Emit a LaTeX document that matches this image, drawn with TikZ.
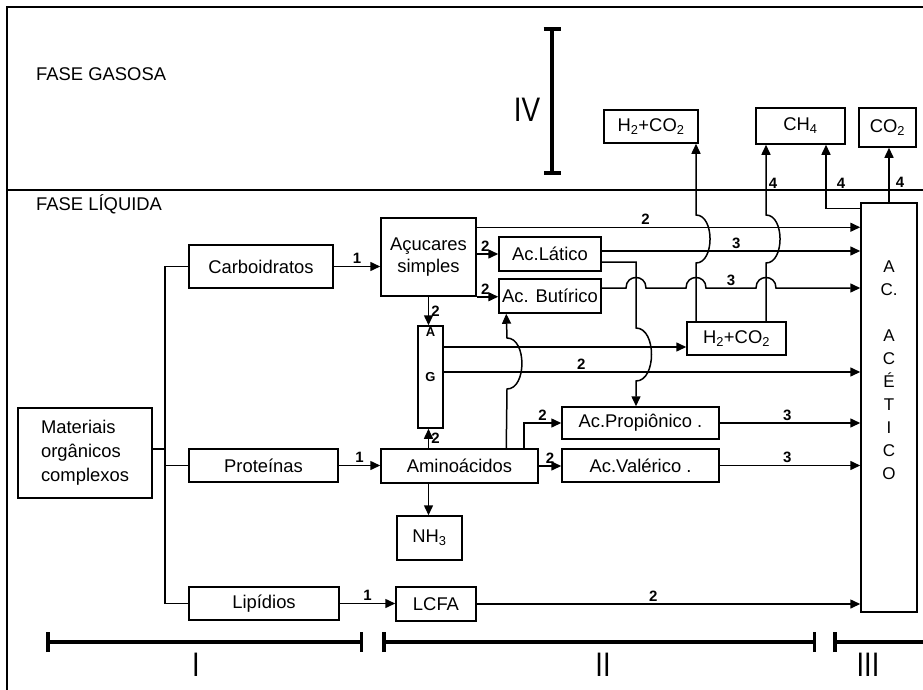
\documentclass[tikz,border=0pt]{standalone}
\usepackage{fontspec}
\setmainfont{Liberation Sans}
\usetikzlibrary{arrows.meta}
\tikzset{
  caixa/.style n args={2}{draw, line width=1.5pt, minimum width=#1, minimum height=#2, inner sep=1pt},
  seta/.style={line width=1.5pt, -{Triangle[length=10pt,width=9pt]}},
  linha/.style={line width=1.5pt},
  num/.style={font=\bfseries\fontsize{15}{17}\selectfont, inner sep=2pt},
  escala/.style={line width=3.5pt},
  fase/.style={font=\fontsize{34}{40}\selectfont},
}
\begin{document}
\begin{tikzpicture}[x=1pt,y=-1pt,font=\fontsize{18.4}{22}\selectfont]
  \useasboundingbox (0,0) rectangle (923,690);
  % moldura e fases
  \draw[linha] (7,700) -- (7,7) -- (935,7);
  \draw[linha] (7,190) -- (935,190);
  \node[anchor=base west, inner sep=0pt] (gasosa) at (36,81) {FASE GASOSA};
  \node[anchor=base west, inner sep=0pt] (liquida) at (36,210) {FASE LÍQUIDA};
  \node[fase] (iv) at (527,110) {\scalebox{0.82}[1]{IV}};
  \draw[escala, line width=4.5pt, {Bar[width=17pt]}-{Bar[width=17pt]}] (552,27) -- (552,175);

  % caixas
  \node[caixa={134pt}{90pt}, align=left, font=\fontsize{18.4}{24}\selectfont] (mat) at (85,453) {Materiais\\orgânicos\\complexos};
  \node[caixa={144pt}{43pt}] (carb) at (261,266.5) {Carboidratos};
  \node[caixa={149pt}{33pt}] (prot) at (263.5,465.5) {Proteínas};
  \node[caixa={150pt}{33pt}] (lip) at (264,603.5) {Lipídios};
  \node[caixa={95pt}{78pt}, align=center] (acu) at (428.5,257) {Açucares\\simples};
  \node[caixa={102pt}{34pt}] (lat) at (550,254) {Ac.Lático};
  \node[caixa={102pt}{34pt}] (but) at (550,296) {Ac. Butírico};
  \node[caixa={25pt}{102pt}, font=\bfseries\fontsize{13}{15}\selectfont,
        label={[anchor=north, inner sep=2pt, font=\bfseries\fontsize{13}{15}\selectfont]north:A}] (ag) at (430.5,377) {G};
  \node[caixa={157pt}{34pt}] (ami) at (459.5,466) {Aminoácidos};
  \node[caixa={65pt}{44pt}] (nh3) at (429.5,538) {NH\textsubscript{3}};
  \node[caixa={80pt}{34pt}] (lcfa) at (436,604) {LCFA};
  \node[caixa={157pt}{32pt}] (prop) at (640.5,423) {Ac.Propiônico .};
  \node[caixa={157pt}{33pt}] (val) at (640.5,465.5) {Ac.Valérico .};
  \node[caixa={99pt}{33pt}] (h2l) at (736.5,338.5) {H\textsubscript{2}+CO\textsubscript{2}};
  \node[caixa={94pt}{33pt}] (h2g) at (651,126.5) {H\textsubscript{2}+CO\textsubscript{2}};
  \node[caixa={89pt}{36pt}] (ch4) at (800.5,126) {CH\textsubscript{4}};
  \node[caixa={57pt}{39pt}] (co2) at (887.5,127.5) {CO\textsubscript{2}};
  \node[caixa={56pt}{409pt},
        label={[anchor=north, align=center, yshift=-55pt, font=\fontsize{17}{23}\selectfont]north:{A\\C.\\[23pt]A\\C\\É\\T\\I\\C\\O}}] (acet) at (889,407.5) {};

  % hidrolise
  \coordinate (tronco) at (165,0);
  \coordinate (m1) at ([yshift=4pt]mat.east);
  \draw[linha] (carb.west) -| (tronco |- lip.west) -- (lip.west);
  \draw[linha] (m1) -- (m1 -| tronco);
  \draw[linha] (prot.west) -- (prot.west -| tronco);
  \draw[seta] (carb.east) -- node[num,above]{1} (carb.east -| acu.west);
  \draw[seta] (prot.east) -- node[num,above]{1} (prot.east -| ami.west);
  \draw[seta] (lip.east) -- node[num,above]{1} (lip.east -| lcfa.west);

  % acidogenese
  \coordinate (a1) at ([yshift=-10pt]acu.north east);
  \draw[seta] (a1) -- node[num,above,pos=0.44]{2} (a1 -| acet.west);
  \draw[seta] (lat.west -| acu.east) -- node[num,above,pos=0.4]{2} (lat.west);
  \draw[seta] (acu.south east) -- node[num,above,pos=0.4]{2} (acu.south east -| but.west);
  \draw[seta] (acu.south) -- node[num,right]{2} (acu.south |- ag.north);
  \draw[seta] (acu.south |- ami.north) -- node[num,right]{2} (acu.south |- ag.south);
  \draw[seta] (acu.south |- ami.south) -- (acu.south |- nh3.north);

  \coordinate (g1) at ([yshift=-8.5pt]h2l.west);
  \draw[seta] (g1 -| ag.east) -- (g1);
  \coordinate (g2) at ([yshift=5pt]ag.east);
  \draw[seta] (g2) -- node[num,above,pos=0.33]{2} (g2 -| acet.west);

  \coordinate (b2) at ([xshift=8pt]but.south west);
  \draw[seta] (b2 |- ami.north) -- (507,389) to[out=0,in=0] (507,338) -- (b2);
  \coordinate (p1) at ([xshift=-15pt]ami.north east);
  \draw[seta] (p1) |- node[num,above,pos=0.75]{2} (prop.west);
  \draw[seta] (ami.east) -- node[num,above]{2} (ami.east -| val.west);

  % acetogenese
  \coordinate (l1) at ([yshift=3pt]lat.east);
  \draw[seta] (l1) -- node[num,above,pos=0.52]{3} (l1 -| acet.west);
  \coordinate (l2) at ([yshift=-8pt]lat.east);
  \coordinate (xL) at (636,0);
  \draw[seta] (l2) -- (l2 -| xL) -- (636,328) to[out=0,in=0] (636,381) -- (prop.north -| xL);
  \coordinate (b1) at ([yshift=8pt]but.east);
  \draw[seta] (b1) -- (626,288) to[out=90,in=90,looseness=1.8] (646,288)
    -- (686,288) to[out=90,in=90,looseness=1.8] (706,288)
    -- node[num,above]{3} (756,288) to[out=90,in=90,looseness=1.8] (776,288) -- (b1 -| acet.west);
  \draw[seta] (prop.east) -- node[num,above,pos=0.48]{3} (prop.east -| acet.west);
  \draw[seta] (val.east) -- node[num,above,pos=0.48]{3} (val.east -| acet.west);
  \draw[seta] (lcfa.east) -- node[num,above,pos=0.46]{2} (lcfa.east -| acet.west);

  % metanogenese
  \coordinate (xH) at (696,0);
  \coordinate (xC) at (766,0);
  \coordinate (xM) at (826,0);
  \draw[seta] (h2l.north -| xH) -- (696,263) to[out=0,in=0] (696,215) -- (h2g.south -| xH);
  \draw[seta] (h2l.north -| xC) -- (766,263) to[out=0,in=0] (766,215) -- node[num,right,pos=0.45]{4} (ch4.south -| xC);
  \coordinate (c1) at ([yshift=-6pt]acet.north west);
  \draw[seta] (c1) -- (c1 -| xM) -- node[num,right,pos=0.4,xshift=8pt]{4} (ch4.south -| xM);
  \draw[seta] (acet.north) -- node[num,right,pos=0.36,xshift=4pt]{4} (acet.north |- co2.south);

  % fases do processo
  \draw[escala, {Bar[width=20pt]}-{Bar[width=20pt]}] (46,642) -- (363,642);
  \draw[escala, {Bar[width=20pt]}-{Bar[width=20pt]}] (382,642) -- (816,642);
  \draw[escala, {Bar[width=20pt]}-] (833,642) -- (935,642);
  \node[fase] (fI) at (196,665) {\scalebox{0.8}[1]{I}};
  \node[fase] (fII) at (603,665) {\scalebox{0.8}[1]{II}};
  \node[fase] (fIII) at (868,665) {\scalebox{0.8}[1]{III}};
\end{tikzpicture}
\end{document}
